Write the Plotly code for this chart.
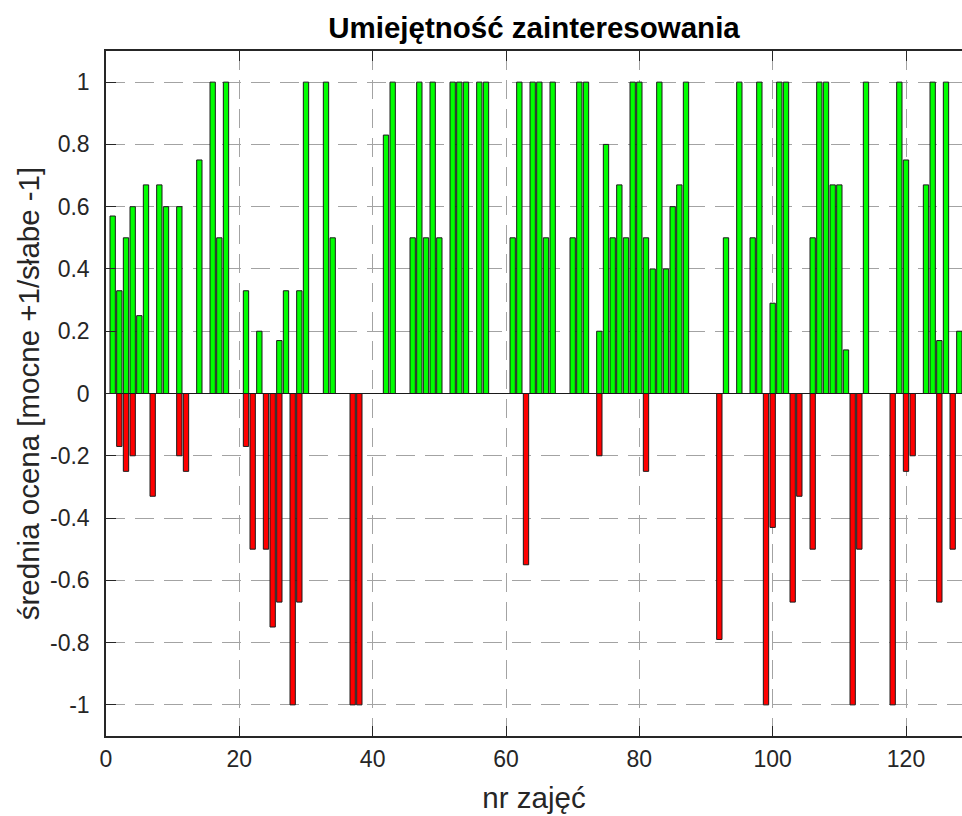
"""
Umiejętność zainteresowania - średnia ocena per zajęcia
"""

import plotly.graph_objects as go

# numer zajęć 1..128
lessons = list(range(1, 129))

# średnia ocena mocnych stron (zielone słupki)
strong = [
    0.57, 0.33, 0.5, 0.6, 0.25, 0.67, 0, 0.67, 0.6, 0,
    0.6, 0, 0, 0.75, 0, 1, 0.5, 1, 0, 0,
    0.33, 0, 0.2, 0, 0, 0.17, 0.33, 0, 0.33, 1,
    0, 0, 1, 0.5, 0, 0, 0, 0, 0, 0,
    0, 0.83, 1, 0, 0, 0.5, 1, 0.5, 1, 0.5,
    0, 1, 1, 1, 0, 1, 1, 0, 0, 0,
    0.5, 1, 0, 1, 1, 0.5, 1, 0, 0, 0.5,
    1, 1, 0, 0.2, 0.8, 0.5, 0.67, 0.5, 1, 1,
    0.5, 0.4, 1, 0.4, 0.6, 0.67, 1, 0, 0, 0,
    0, 0, 0.5, 0, 1, 0, 0.5, 1, 0, 0.29,
    1, 1, 0, 0, 0, 0.5, 1, 1, 0.67, 0.67,
    0.14, 0, 0, 1, 0, 0, 0, 0, 1, 0.75,
    0, 0, 0.67, 1, 0.17, 1, 0, 0.2,
]

# średnia ocena słabych stron (czerwone słupki)
weak = [
    0, -0.17, -0.25, -0.2, 0, 0, -0.33, 0, 0, 0,
    -0.2, -0.25, 0, 0, 0, 0, 0, 0, 0, 0,
    -0.17, -0.5, 0, -0.5, -0.75, -0.67, 0, -1, -0.67, 0,
    0, 0, 0, 0, 0, 0, -1, -1, 0, 0,
    0, 0, 0, 0, 0, 0, 0, 0, 0, 0,
    0, 0, 0, 0, 0, 0, 0, 0, 0, 0,
    0, 0, -0.55, 0, 0, 0, 0, 0, 0, 0,
    0, 0, 0, -0.2, 0, 0, 0, 0, 0, 0,
    -0.25, 0, 0, 0, 0, 0, 0, 0, 0, 0,
    0, -0.79, 0, 0, 0, 0, 0, 0, -1, -0.43,
    0, 0, -0.67, -0.33, 0, -0.5, 0, 0, 0, 0,
    0, -1, -0.5, 0, 0, 0, 0, -1, 0, -0.25,
    -0.2, 0, 0, 0, -0.67, 0, -0.5, 0,
]

x_ticks = [0, 20, 40, 60, 80, 100, 120]
y_ticks = [-1, -0.8, -0.6, -0.4, -0.2, 0, 0.2, 0.4, 0.6, 0.8, 1]
y_tick_labels = ["-1", "-0.8", "-0.6", "-0.4", "-0.2", "0", "0.2", "0.4", "0.6", "0.8", "1"]

FONT = "Liberation Sans, Arial, sans-serif"
AXIS_COLOR = "#262626"
GRID_COLOR = "#a3a3a3"

W, H = 962, 816

fig = go.Figure()

fig.add_trace(go.Bar(
    x=lessons,
    y=strong,
    width=0.8,
    marker=dict(color="#00ff00", line=dict(color="#1a1a1a", width=1)),
    name="mocne",
))

fig.add_trace(go.Bar(
    x=lessons,
    y=weak,
    width=0.8,
    marker=dict(color="#ff0000", line=dict(color="#1a1a1a", width=1)),
    name="słabe",
))

fig.update_layout(
    width=W,
    height=H,
    margin=dict(l=106, r=0, t=51, b=80),
    barmode="overlay",
    showlegend=False,
    plot_bgcolor="white",
    paper_bgcolor="white",
    font=dict(family=FONT, size=23, color=AXIS_COLOR),
    title=dict(
        text="<b>Umiejętność zainteresowania</b>",
        x=0.5,
        xref="paper",
        xanchor="center",
        y=1 - 28 / H,
        yref="container",
        yanchor="middle",
        font=dict(family=FONT, size=29.5, color="black"),
    ),
)

fig.update_xaxes(
    range=[0, 128.4],
    tickvals=x_ticks,
    ticks="inside",
    ticklen=10,
    tickwidth=1.3,
    tickcolor=AXIS_COLOR,
    ticklabelstandoff=2,
    showline=True,
    linecolor=AXIS_COLOR,
    linewidth=1.5,
    mirror="ticks",
    showgrid=True,
    gridcolor=GRID_COLOR,
    gridwidth=1,
    griddash="19px,10px",
    zeroline=False,
    title=dict(text="nr zajęć", standoff=16, font=dict(size=29.5, color=AXIS_COLOR)),
    automargin=False,
)

fig.update_yaxes(
    range=[-1.1, 1.1],
    tickvals=y_ticks,
    ticktext=y_tick_labels,
    ticks="inside",
    ticklen=10,
    tickwidth=1.3,
    tickcolor=AXIS_COLOR,
    ticklabelstandoff=10,
    showline=True,
    linecolor=AXIS_COLOR,
    linewidth=1.5,
    showgrid=True,
    gridcolor=GRID_COLOR,
    gridwidth=1,
    griddash="19px,10px",
    zeroline=True,
    zerolinecolor="#1a1a1a",
    zerolinewidth=1,
    title=dict(text="średnia ocena [mocne +1/słabe -1]", standoff=2,
               font=dict(size=29.5, color=AXIS_COLOR)),
    automargin=False,
)

# drop the default page margin so the figure fills the window exactly
fig.write_html(
    "out.html",
    config={"displayModeBar": False},
    post_script=(
        "document.body.style.margin='0';"
        "document.body.style.overflow='hidden';"
        "document.documentElement.style.overflow='hidden';"
    ),
)
